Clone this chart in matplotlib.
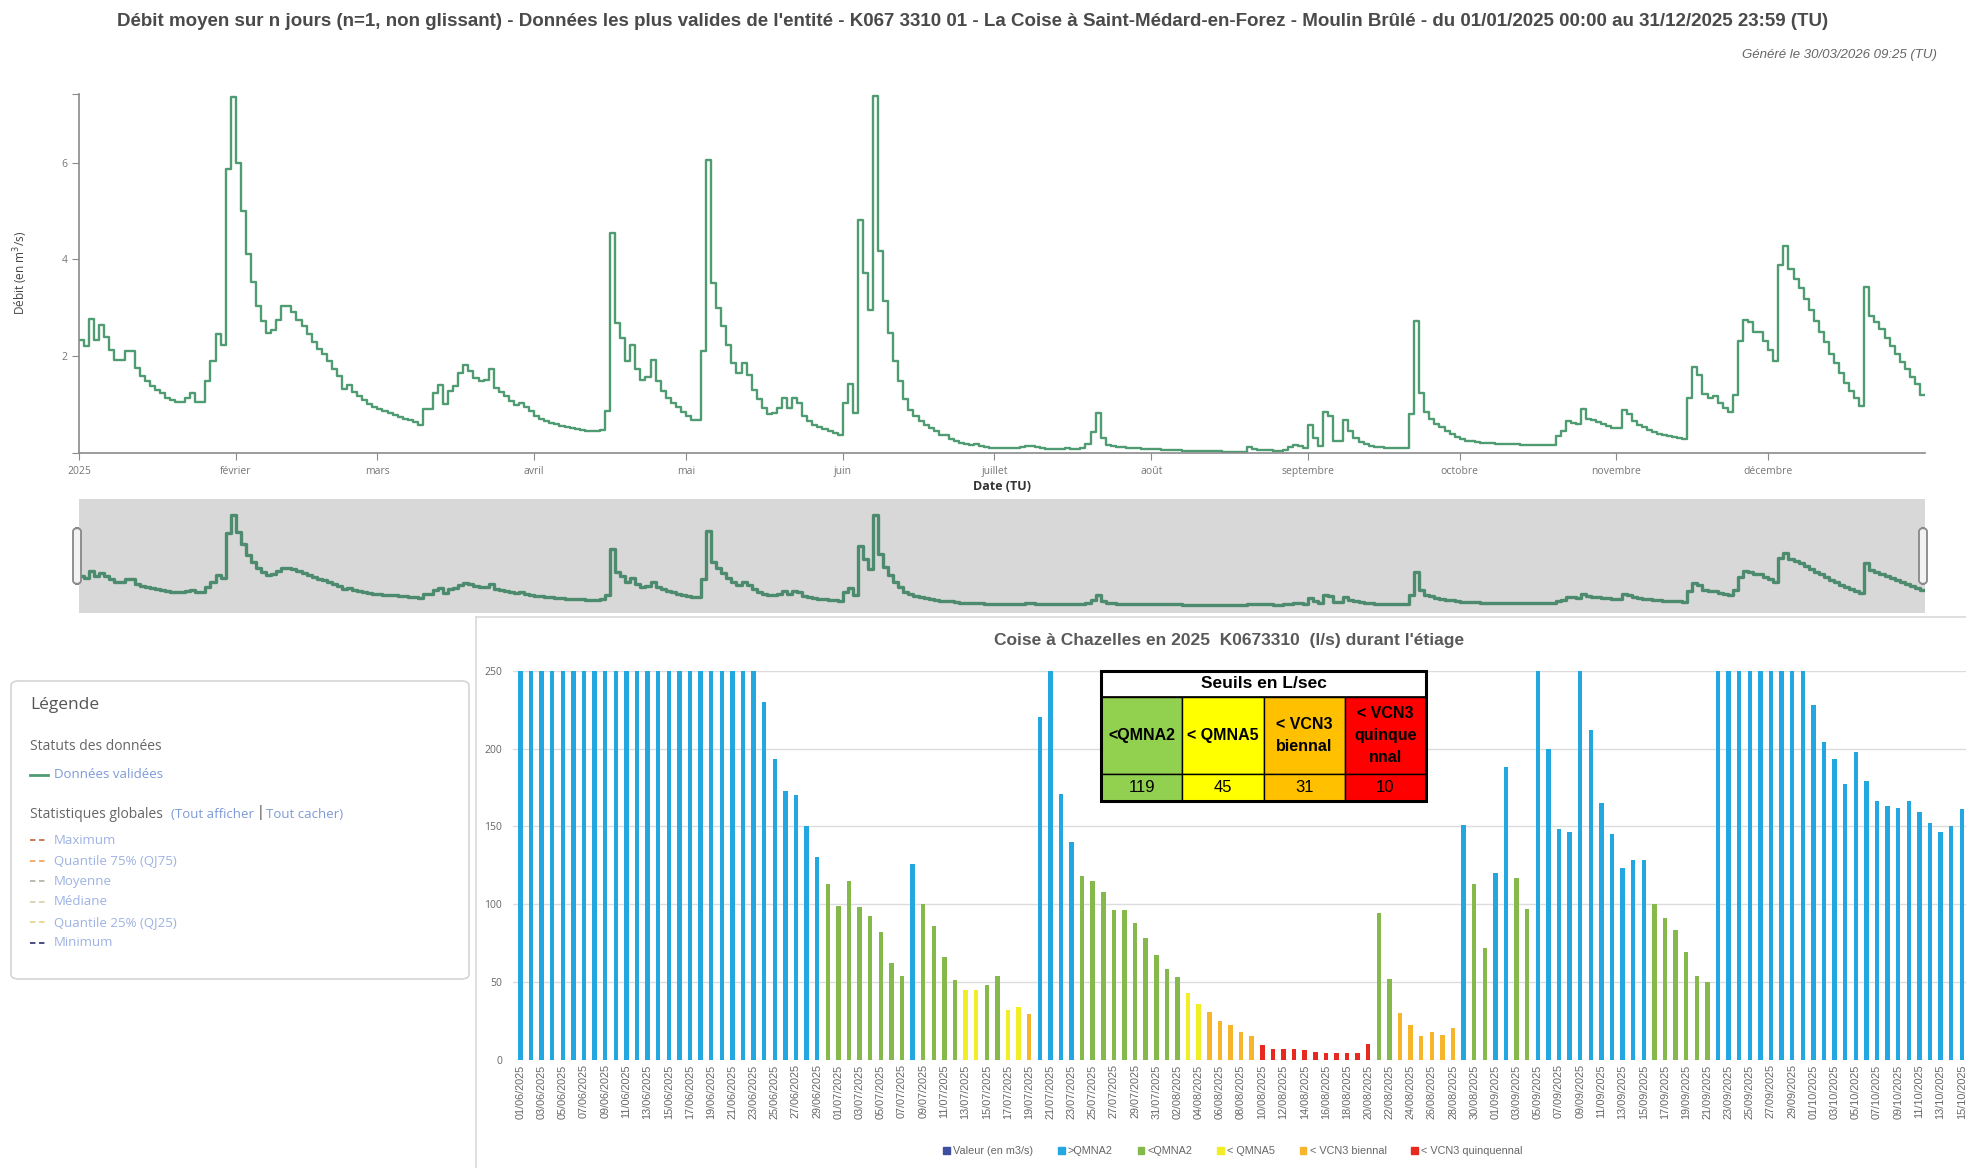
"""Hydro report page: daily flow of La Coise (2025) + low-flow bar chart at Chazelles."""

import numpy as np
import pandas as pd
import matplotlib

matplotlib.use("Agg")
import matplotlib.pyplot as plt
from matplotlib.patches import FancyBboxPatch, Rectangle, Patch
from matplotlib.lines import Line2D

W, H = 1966, 1168

# ---- daily mean flow 2025, m3/s (Saint-Médard-en-Forez) ----
q_jan = [2.34, 2.2, 2.77, 2.34, 2.63, 2.4, 2.13, 1.92, 1.92, 2.1, 2.1, 1.75, 1.58, 1.48, 1.37, 1.3,
         1.23, 1.14, 1.08, 1.05, 1.05, 1.13, 1.23, 1.05, 1.05, 1.49, 1.9, 2.46, 2.23, 5.86, 7.35]
q_feb = [5.99, 4.99, 4.1, 3.52, 3.03, 2.72, 2.48, 2.54, 2.75, 3.03, 3.03, 2.91, 2.75, 2.61, 2.46, 2.29,
         2.15, 2.03, 1.89, 1.72, 1.58, 1.32, 1.4, 1.25, 1.17, 1.08, 1.0, 0.94]
q_mar = [0.9, 0.86, 0.82, 0.78, 0.74, 0.7, 0.67, 0.63, 0.58, 0.91, 0.91, 1.23, 1.4, 1.0, 1.27, 1.37,
         1.65, 1.82, 1.68, 1.54, 1.48, 1.51, 1.72, 1.34, 1.26, 1.17, 1.06, 0.99, 1.03, 0.94, 0.86]
q_apr = [0.75, 0.7, 0.66, 0.62, 0.59, 0.56, 0.53, 0.5, 0.48, 0.46, 0.45, 0.44, 0.44, 0.46, 0.86, 4.54,
         2.68, 2.37, 1.89, 2.23, 1.72, 1.51, 1.56, 1.92, 1.48, 1.27, 1.13, 1.03, 0.94, 0.84]
q_may = [0.75, 0.68, 0.68, 2.1, 6.06, 3.51, 2.99, 2.61, 2.23, 1.86, 1.65, 1.86, 1.61, 1.3, 1.1, 0.92,
         0.79, 0.82, 0.92, 1.12, 0.92, 1.13, 1.03, 0.75, 0.65, 0.58, 0.53, 0.49, 0.44, 0.41, 0.37]
q_jun = [1.03, 1.42, 0.82, 4.82, 3.72, 2.96, 7.37, 4.18, 3.13, 2.48, 1.89, 1.48, 1.1, 0.89, 0.75, 0.65,
         0.57, 0.5, 0.44, 0.37, 0.37, 0.29, 0.23, 0.2, 0.18, 0.15, 0.17, 0.13, 0.11, 0.1]
q_jul = [0.1, 0.09, 0.09, 0.1, 0.1, 0.11, 0.13, 0.13, 0.12, 0.09, 0.08, 0.08, 0.07, 0.08, 0.09, 0.08,
         0.08, 0.1, 0.18, 0.43, 0.82, 0.3, 0.15, 0.13, 0.12, 0.11, 0.1, 0.09, 0.09, 0.08, 0.08]
q_aug = [0.07, 0.07, 0.06, 0.06, 0.05, 0.05, 0.04, 0.04, 0.04, 0.03, 0.03, 0.03, 0.03, 0.03, 0.02, 0.02,
         0.02, 0.02, 0.02, 0.11, 0.07, 0.06, 0.05, 0.05, 0.04, 0.04, 0.05, 0.12, 0.15, 0.13, 0.1]
q_sep = [0.57, 0.3, 0.13, 0.84, 0.75, 0.23, 0.23, 0.68, 0.44, 0.3, 0.22, 0.17, 0.13, 0.12, 0.11, 0.1,
         0.1, 0.09, 0.09, 0.09, 0.79, 2.72, 1.23, 0.84, 0.7, 0.6, 0.52, 0.45, 0.38, 0.32]
q_oct = [0.28, 0.25, 0.23, 0.22, 0.2, 0.19, 0.19, 0.18, 0.17, 0.17, 0.18, 0.17, 0.16, 0.16, 0.16, 0.16,
         0.16, 0.16, 0.16, 0.34, 0.44, 0.66, 0.62, 0.6, 0.91, 0.7, 0.68, 0.64, 0.6, 0.55, 0.5]
q_nov = [0.5, 0.88, 0.8, 0.65, 0.58, 0.52, 0.46, 0.42, 0.39, 0.37, 0.35, 0.33, 0.3, 0.28, 1.13, 1.78,
         1.6, 1.22, 1.12, 1.18, 1.02, 0.93, 0.84, 1.2, 2.3, 2.75, 2.7, 2.5, 2.5, 2.3]
q_dec = [2.13, 1.9, 3.88, 4.28, 3.8, 3.6, 3.4, 3.17, 2.95, 2.72, 2.5, 2.28, 2.05, 1.85, 1.65, 1.45,
         1.28, 1.12, 0.96, 3.43, 2.83, 2.7, 2.55, 2.38, 2.2, 2.03, 1.88, 1.72, 1.57, 1.42, 1.2]

month_labels = ["2025", "février", "mars", "avril", "mai", "juin", "juillet", "août",
                "septembre", "octobre", "novembre", "décembre"]

# ---- Chazelles low-flow bars, l/s, 01/06 -> 15/10 ----
b_jun = [250] * 23 + [230, 193, 173, 170, 150, 130, 113]
b_jul = [99, 115, 98, 92, 82, 62, 54, 126, 100, 86, 66, 51, 44.5, 44.5, 48, 54, 32, 34, 29.5, 220,
         250, 171, 140, 118, 115, 108, 96, 96, 88, 78, 67]
b_aug = [58, 53, 43, 36, 30.5, 25, 22, 18, 15, 9.5, 7, 6.5, 6.5, 6, 5, 4, 4.3, 4, 4.3, 9.8, 94, 52,
         30, 22, 15, 18, 15.5, 20.5, 151, 113, 72]
b_sep = [120, 188, 117, 97, 250, 200, 148, 146, 250, 212, 165, 145, 123, 128, 128, 100, 91, 83, 69,
         54, 50] + [250] * 9
b_oct = [228, 204, 193, 177, 198, 179, 166, 163, 162, 166, 159, 152, 146, 150, 161]

seuil_names = ["<QMNA2", "< QMNA5", "< VCN3\nbiennal", "< VCN3\nquinque\nnnal"]
seuil_values = [119, 45, 31, 10]
seuil_colors = ["#92D050", "#FFFF00", "#FFC000", "#FF0000"]

legend_labels = ["Valeur (en m3/s)", ">QMNA2", "<QMNA2", "< QMNA5", "< VCN3 biennal", "< VCN3 quinquennal"]

GREEN = "#4F9C73"
NAV_GREEN = "#4C8B6D"
BAR_BLUE = "#22A7E0"
BAR_GREEN = "#86B94B"
BAR_YELLOW = "#F2EE25"
BAR_ORANGE = "#F7B52C"
BAR_RED = "#E62A20"

WEB = ["Open Sans", "DejaVu Sans"]
NARROW = ["Liberation Sans Narrow", "Liberation Sans", "DejaVu Sans"]
plt.rcParams["font.family"] = WEB


def box(x0, y0, x1, y1):
    return [x0 / W, 1 - y1 / H, (x1 - x0) / W, (y1 - y0) / H]


def fx(px):
    return px / W


def fy(py):
    return 1 - py / H


fig = plt.figure(figsize=(W / 100, H / 100), dpi=100)

fig.text(fx(973), fy(21), "Débit moyen sur n jours (n=1, non glissant) - Données les plus valides de l'entité - "
         "K067 3310 01 - La Coise à Saint-Médard-en-Forez - Moulin Brûlé - du 01/01/2025 00:00 au 31/12/2025 23:59 (TU)",
         ha="center", va="center", fontsize=13.5, fontweight="bold", color="#4a4a4a", family=NARROW)
fig.text(fx(1937), fy(55), "Généré le 30/03/2026 09:25 (TU)", ha="right", va="center",
         fontsize=9.5, style="italic", color="#666666", family=NARROW)

# ---- main daily chart ----
q = np.array(q_jan + q_feb + q_mar + q_apr + q_may + q_jun + q_jul + q_aug + q_sep + q_oct + q_nov + q_dec)
days = np.arange(len(q) + 1)
qs = np.append(q, q[-1])
month_starts = np.cumsum([0, 31, 28, 31, 30, 31, 30, 31, 31, 30, 31, 30])

ax = fig.add_axes(box(79, 94, 1925, 452.6))
ax.step(days, qs, where="post", color=GREEN, lw=1.7)
ax.set_xlim(0, 365)
ax.set_ylim(0, 7.42)
for s in ["top", "right"]:
    ax.spines[s].set_visible(False)
for s in ["left", "bottom"]:
    ax.spines[s].set_color("#8a8a8a")
    ax.spines[s].set_linewidth(1.2)
ax.set_yticks([0, 2, 4, 6, 7.42])
ax.set_yticklabels(["", "2", "4", "6", ""])
ax.set_xticks(month_starts)
ax.set_xticklabels(month_labels)
ax.tick_params(axis="both", colors="#8a8a8a", labelcolor="#777777", labelsize=7.5, length=5)
ax.tick_params(axis="x", pad=5)
ax.set_ylabel("Débit (en m$^3$/s)", fontsize=8.5, color="#444444")
ax.yaxis.set_label_coords(-0.0265, 0.5)
ax.set_xlabel("Date (TU)", fontsize=9, color="#333333", fontweight="bold", labelpad=2)

# ---- navigator ----
nav = fig.add_axes(box(79, 499, 1925, 613))
nav.set_facecolor("#D8D8D8")
nav.step(days, qs, where="post", color=NAV_GREEN, lw=2.4)
nav.set_xlim(0, 365)
nav.set_ylim(-0.65, 8.66)
nav.set_xticks([])
nav.set_yticks([])
for s in nav.spines.values():
    s.set_visible(False)
for hx in (77, 1923):
    fig.add_artist(FancyBboxPatch((fx(hx - 4), fy(584)), 8 / W, 56 / H,
                                  boxstyle="round,pad=0,rounding_size=0.003",
                                  transform=fig.transFigure, fc="#f2f2f2", ec="#888888", lw=1.3))

# ---- legend panel ----
fig.add_artist(FancyBboxPatch((fx(11), fy(979)), 458 / W, 298 / H,
                              boxstyle="round,pad=0,rounding_size=0.004",
                              transform=fig.transFigure, fc="white", ec="#d4d4d4", lw=1.2))
fig.text(fx(30), fy(705), "Légende", fontsize=12.5, color="#555555", va="center")
fig.text(fx(30), fy(747), "Statuts des données", fontsize=10, color="#666666", va="center")
fig.add_artist(Line2D([fx(30), fx(48)], [fy(775), fy(775)], color=GREEN, lw=2))
fig.text(fx(54), fy(775), "Données validées", fontsize=9.5, color="#7d9ad8", va="center")
fig.text(fx(30), fy(814), "Statistiques globales", fontsize=10, color="#666666", va="center")
fig.text(fx(171), fy(814), "(Tout afficher", fontsize=9.5, color="#7d9ad8", va="center")
fig.text(fx(257), fy(813), "|", fontsize=10, color="#444444", va="center")
fig.text(fx(266), fy(814), "Tout cacher)", fontsize=9.5, color="#7d9ad8", va="center")
stat_names = ["Maximum", "Quantile 75% (QJ75)", "Moyenne", "Médiane", "Quantile 25% (QJ25)", "Minimum"]
stat_colors = ["#c9704f", "#f0a860", "#b5b5a8", "#d8d2b0", "#e6d58a", "#3a3f7a"]
for i, (nm, c) in enumerate(zip(stat_names, stat_colors)):
    yy = fy(840 + i * 20.6)
    fig.add_artist(Line2D([fx(30), fx(47)], [yy, yy], color=c, lw=1.3, ls=(0, (3, 2))))
    fig.text(fx(54), yy, nm, fontsize=9.5, color="#9db2e3", va="center")

# ---- bottom bar chart frame ----
fig.add_artist(Line2D([fx(476), fx(476)], [fy(617), 0], color="#d9d9d9", lw=1.2))
fig.add_artist(Line2D([fx(476), 1], [fy(617), fy(617)], color="#d9d9d9", lw=1.2))

vals = np.array(b_jun + b_jul + b_aug + b_sep + b_oct, dtype=float)
dates = pd.date_range("2025-06-01", periods=len(vals), freq="D")
cats = np.select([vals >= seuil_values[0], vals >= seuil_values[1], vals >= seuil_values[2],
                  vals >= seuil_values[3]], [0, 1, 2, 3], 4)
palette = [BAR_BLUE, BAR_GREEN, BAR_YELLOW, BAR_ORANGE, BAR_RED]
xb = np.arange(len(vals))

axb = fig.add_axes(box(513, 670.8, 1966, 1059.5))
axb.bar(xb, vals, width=0.42, color=[palette[c] for c in cats], zorder=3)
axb.set_xlim(-0.7, 136.4)
axb.set_ylim(0, 250)
axb.set_yticks(np.arange(0, 251, 50))
axb.yaxis.grid(True, color="#dcdcdc", lw=1)
axb.set_axisbelow(True)
for s in axb.spines.values():
    s.set_visible(False)
axb.set_xticks(xb[::2])
axb.set_xticklabels([d.strftime("%d/%m/%Y") for d in dates[::2]], rotation=90, family=NARROW)
axb.tick_params(axis="both", length=0, labelcolor="#666666", labelsize=7.8)
axb.tick_params(axis="y", pad=8, labelsize=7.5)

fig.text(fx(1229), fy(641), "Coise à Chazelles en 2025  K0673310  (l/s) durant l'étiage",
         ha="center", va="center", fontsize=12.5, fontweight="bold", color="#595959", family=NARROW)

# ---- thresholds table ----
tx0, tx1 = 1101, 1426
rows = [671, 697, 774, 801]
cw = (tx1 - tx0) / 4
fig.add_artist(Rectangle((fx(tx0), fy(rows[1])), (tx1 - tx0) / W, (rows[1] - rows[0]) / H,
                         transform=fig.transFigure, fc="white", ec="black", lw=1.2, zorder=5))
fig.text(fx((tx0 + tx1) / 2), fy((rows[0] + rows[1]) / 2), "Seuils en L/sec", ha="center", va="center",
         fontsize=12.5, fontweight="bold", color="black", family=NARROW, zorder=6)
for i in range(4):
    x0 = tx0 + i * cw
    for r0, r1, txt, bold in [(rows[1], rows[2], seuil_names[i], True),
                              (rows[2], rows[3], str(seuil_values[i]), False)]:
        fig.add_artist(Rectangle((fx(x0), fy(r1)), cw / W, (r1 - r0) / H, transform=fig.transFigure,
                                 fc=seuil_colors[i], ec="black", lw=1.0, zorder=5))
        fig.text(fx(x0 + cw / 2), fy((r0 + r1) / 2), txt, ha="center", va="center",
                 fontsize=11.5 if bold else 12, fontweight="bold" if bold else "normal",
                 color="black", family=NARROW, linespacing=1.55, zorder=6)
fig.add_artist(Rectangle((fx(tx0), fy(rows[3])), (tx1 - tx0) / W, (rows[3] - rows[0]) / H,
                         transform=fig.transFigure, fc="none", ec="black", lw=2.2, zorder=7))

handles = [Patch(color=c) for c in ["#3f4f9f"] + palette]
leg = fig.legend(handles, legend_labels, loc="center", bbox_to_anchor=(fx(1233), fy(1151)), ncol=6,
                 frameon=False, handlelength=0.6, handleheight=0.6, handletextpad=0.3,
                 columnspacing=2.3, prop={"family": NARROW, "size": 7.8})
for t in leg.get_texts():
    t.set_color("#666666")

fig.savefig("out.png", dpi=100)
